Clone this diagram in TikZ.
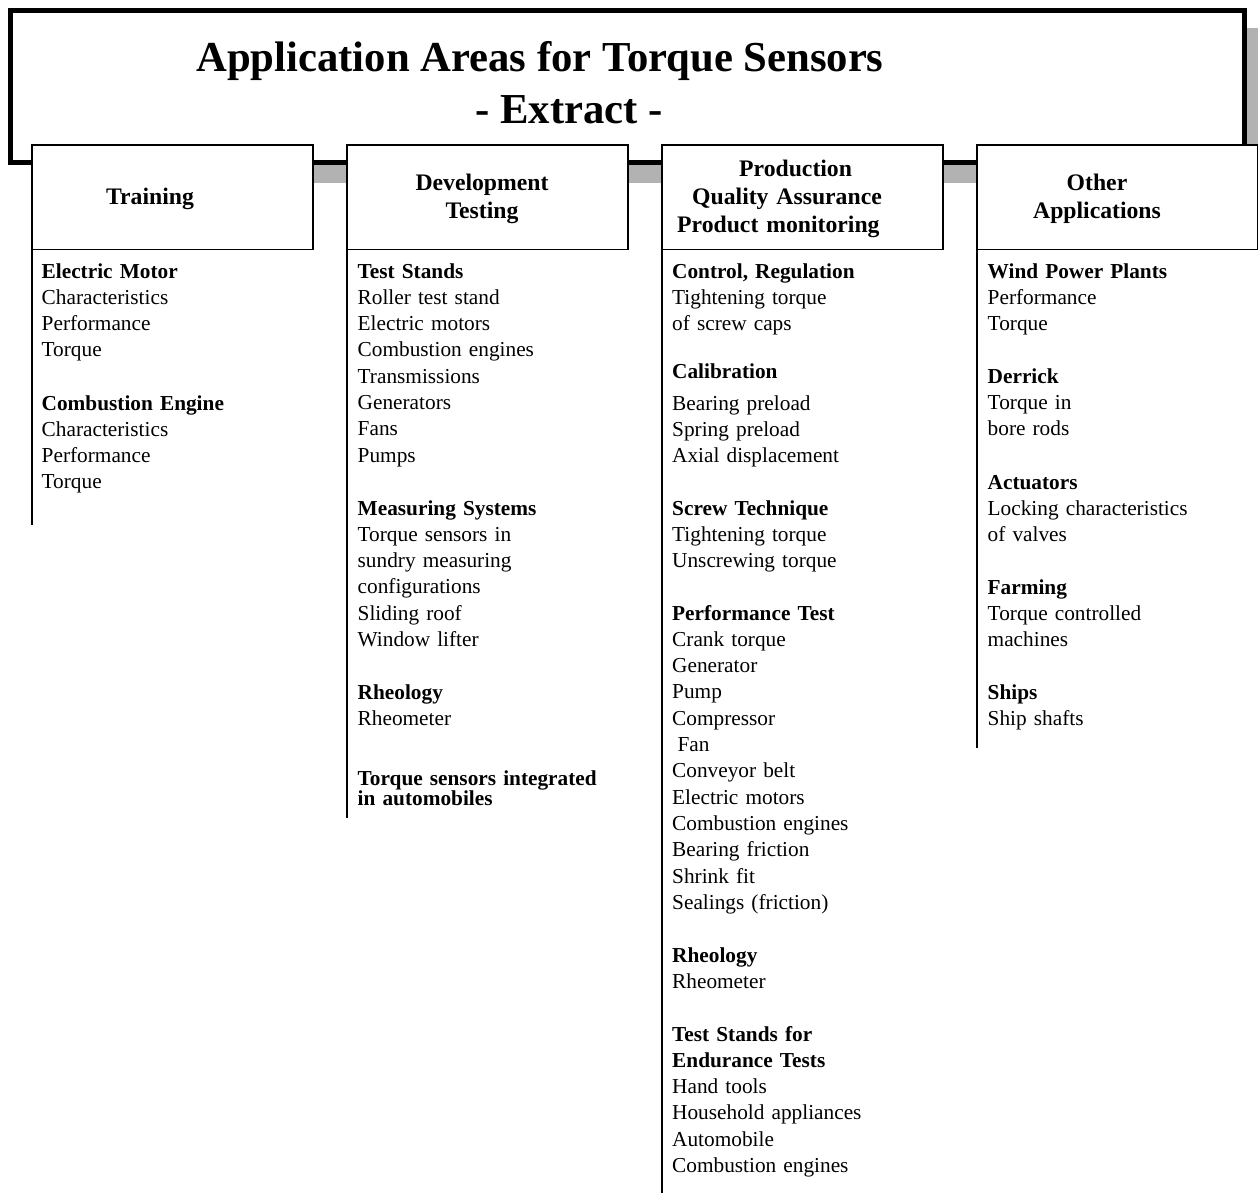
\documentclass[tikz,border=0pt]{standalone}
\usepackage{fontspec}
\setmainfont{Liberation Serif}
\definecolor{shadowgray}{RGB}{178,178,178}
\begin{document}
\begin{tikzpicture}[x=1pt,y=-1pt,
  shadow/.style={fill=shadowgray, draw=none},
  titleframe/.style={draw=black, line width=5pt, fill=white},
  titletext/.style={anchor=base, inner sep=0, font=\fontsize{42.7}{52}\selectfont\bfseries},
  hdrbox/.style={draw=black, line width=1.5pt, fill=white, anchor=north west, minimum width=281pt, minimum height=104.5pt, inner sep=0, outer sep=0},
  hdrtext/.style={anchor=base, inner sep=0, text width=280pt, align=center, font=\fontsize{23.7}{28}\selectfont\bfseries},
  sect/.style={anchor=base west, inner sep=0, text width=270pt, align=left, font=\fontsize{21.3}{26.3}\selectfont},
  tightsect/.style={sect, font=\fontsize{21.3}{18.5}\selectfont\bfseries},
  colline/.style={line width=1.5pt}
]
\useasboundingbox (0,0) rectangle (1258,1194);
\clip (0,0) rectangle (1258,1194);

% title frame with shadow
\fill[shadow] (40,28) rectangle (1262,183);
\draw[titleframe] (10.5,10.5) rectangle (1244,162.5);
\node[titletext] (title1) at (540,71) {Application Areas for Torque Sensors};
\node[titletext] (title2) at (569,123) {- Extract -};

% header boxes
\node[hdrbox] (box1) at (32,145) {};
\node[hdrbox] (box2) at (347,145) {};
\node[hdrbox] (box3) at (662,145) {};
\node[hdrbox] (box4) at (977,145) {};

\node[hdrtext] (h1) at (150,204) {Training};
\node[hdrtext] (h2) at (482,190) {Development\\Testing};
\node[hdrtext, align=left, text width=270pt, anchor=base west] (h3) at (677,176) {\hspace*{62pt}Production\\\hspace*{15pt}Quality Assurance\\Product monitoring};
\node[hdrtext] (h4) at (1097,190) {Other\\Applications};

% column lines
\coordinate (e1) at (32,525);
\coordinate (e2) at (347,818);
\coordinate (e3) at (662,1193);
\coordinate (e4) at (977,748);
\draw[colline] (box1.south west) -- (e1);
\draw[colline] (box2.south west) -- (e2);
\draw[colline] (box3.south west) -- (e3);
\draw[colline] (box4.south west) -- (e4);

% column 1
\node[sect] (s1a) at (41.5,278) {\textbf{Electric Motor}\\Characteristics\\Performance\\Torque};
\node[sect] (s1b) at (41.5,410) {\textbf{Combustion Engine}\\Characteristics\\Performance\\Torque};

% column 2
\node[sect] (s2a) at (357.5,278) {\textbf{Test Stands}\\Roller test stand\\Electric motors\\Combustion engines\\Transmissions\\Generators\\Fans\\Pumps};
\node[sect] (s2b) at (357.5,515) {\textbf{Measuring Systems}\\Torque sensors in\\sundry measuring\\configurations\\Sliding roof\\Window lifter};
\node[sect] (s2c) at (357.5,699) {\textbf{Rheology}\\Rheometer};
\node[tightsect] (s2d) at (357.5,785) {\setlength{\lineskiplimit}{-20pt}Torque sensors integrated\\in automobiles};

% column 3
\node[sect] (s3a) at (672,278) {\textbf{Control, Regulation}\\Tightening torque\\of screw caps};
\node[sect] (s3b) at (672,378) {\textbf{Calibration}};
\node[sect] (s3c) at (672,410) {Bearing preload\\Spring preload\\Axial displacement};
\node[sect] (s3d) at (672,515) {\textbf{Screw Technique}\\Tightening torque\\Unscrewing torque};
\node[sect] (s3e) at (672,620) {\textbf{Performance Test}\\Crank torque\\Generator\\Pump\\Compressor\\\hspace*{0.25em}Fan\\Conveyor belt\\Electric motors\\Combustion engines\\Bearing friction\\Shrink fit\\Sealings (friction)};
\node[sect] (s3f) at (672,962) {\textbf{Rheology}\\Rheometer};
\node[sect] (s3g) at (672,1041) {\textbf{Test Stands for}\\\textbf{Endurance Tests}\\Hand tools\\Household appliances\\Automobile\\Combustion engines};

% column 4
\node[sect] (s4a) at (987.5,278) {\textbf{Wind Power Plants}\\Performance\\Torque};
\node[sect] (s4b) at (987.5,383) {\textbf{Derrick}\\Torque in\\bore rods};
\node[sect] (s4c) at (987.5,489) {\textbf{Actuators}\\Locking characteristics\\of valves};
\node[sect] (s4d) at (987.5,594) {\textbf{Farming}\\Torque controlled\\machines};
\node[sect] (s4e) at (987.5,699) {\textbf{Ships}\\Ship shafts};
\end{tikzpicture}
\end{document}
